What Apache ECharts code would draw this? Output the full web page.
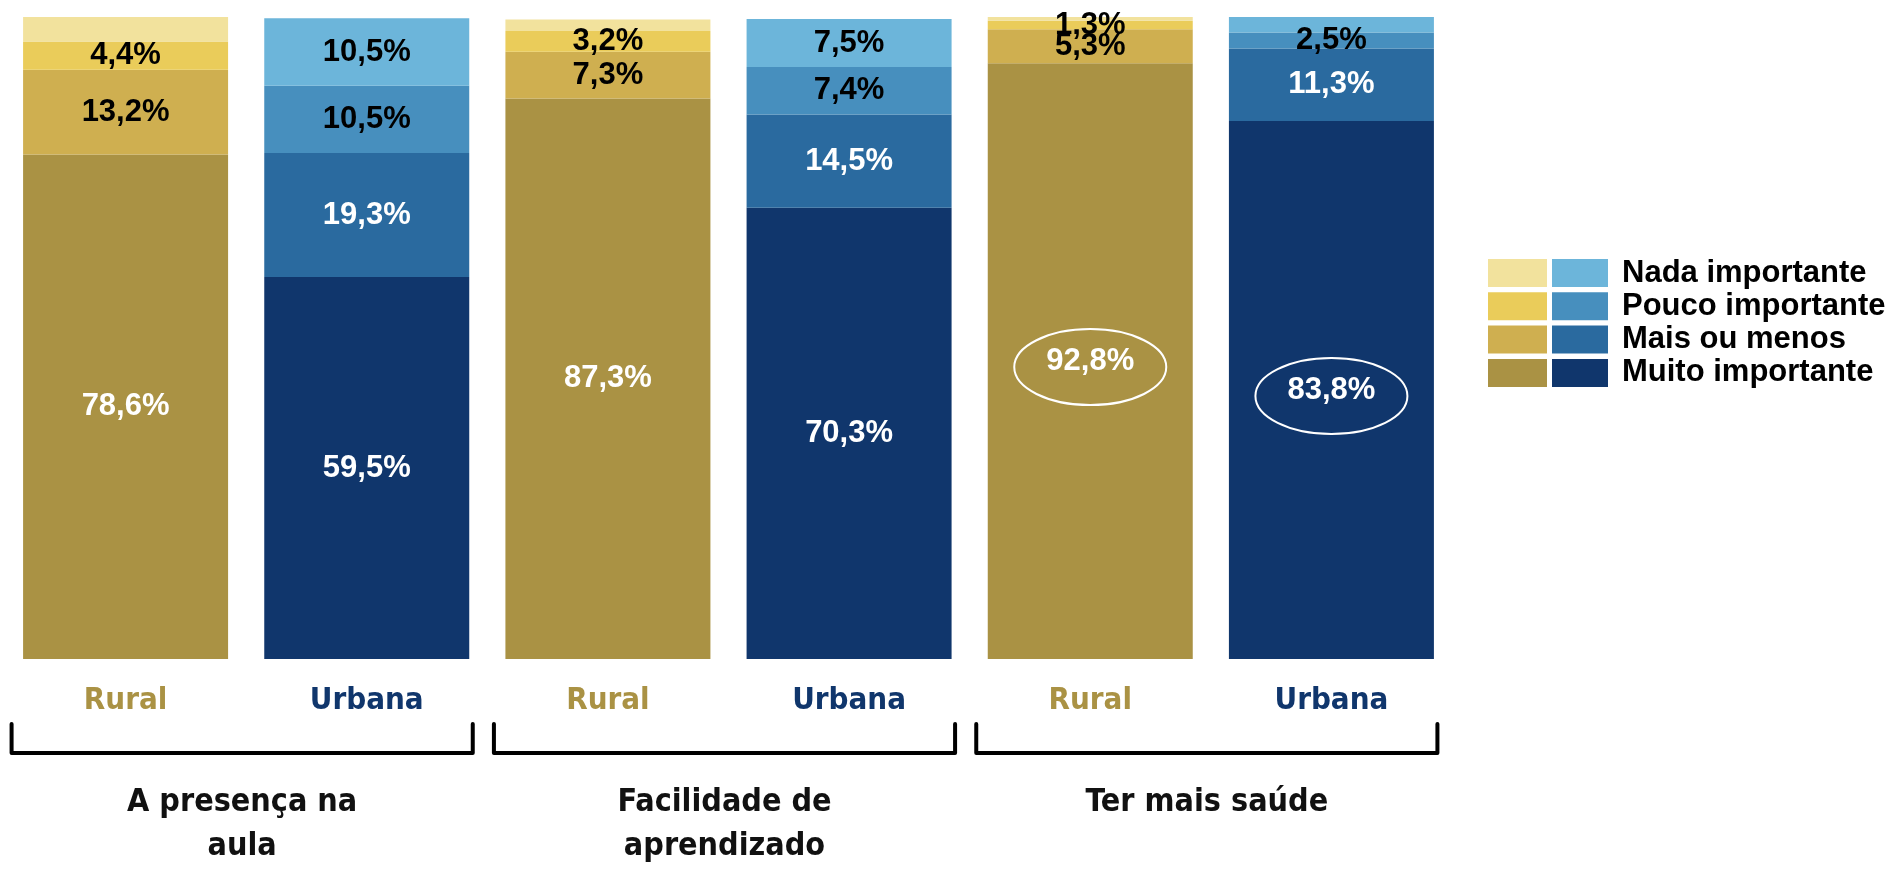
<!DOCTYPE html>
<html>
<head>
<meta charset="utf-8">
<script src="https://cdn.jsdelivr.net/npm/echarts@6/dist/echarts.min.js"></script>
<style>
  html, body { margin: 0; padding: 0; background: #fff; }
  #chart { width: 1894px; height: 871px; }
</style>
</head>
<body>
<div id="chart"></div>
<script>
// dados
var categories = ['Rural', 'Urbana', 'Rural', 'Urbana', 'Rural', 'Urbana'];
var groups = ['A presença na\naula', 'Facilidade de\naprendizado', 'Ter mais saúde'];
var levels = ['Nada importante', 'Pouco importante', 'Mais ou menos', 'Muito importante'];

var muito = [78.6, 59.5, 87.3, 70.3, 92.8, 83.8];
var mais  = [13.2, 19.3, 7.3, 14.5, 5.3, 11.3];
var pouco = [4.4, 10.5, 3.2, 7.4, 1.3, 2.5];
var nada  = [3.8, 10.5, 1.8, 7.5, 0.6, 2.4];

// cores (rural / urbana) na ordem de levels
var ruralColors = ['#F2E29D', '#EACC5A', '#CFAF50', '#AA9244'];
var urbanColors = ['#6CB5DA', '#478FBE', '#2A6A9F', '#10366C'];
var ruralLabel = ['#000', '#000', '#000', '#fff'];
var urbanLabel = ['#000', '#000', '#fff', '#fff'];

// destaques com elipse: [indice da categoria, indice na pilha (0 = muito)]
var highlights = [[4, 0], [5, 0]];

var myChart = echarts.init(document.getElementById('chart'));

function fmt(v) {
    return v.toFixed(1).replace('.', ',') + '%';
}

function makeSeries(name, values, lvl, minLabel) {
    return {
        name: name,
        type: 'bar',
        stack: 'total',
        barWidth: 205,
        data: values.map(function(v, i) {
            return {
                value: v,
                itemStyle: { color: i % 2 ? urbanColors[lvl] : ruralColors[lvl] },
                label: { color: i % 2 ? urbanLabel[lvl] : ruralLabel[lvl] }
            };
        }),
        label: {
            show: true,
            position: 'inside',
            fontFamily: 'Liberation Sans, Arial, sans-serif',
            fontWeight: 'bold',
            fontSize: 31,
            formatter: function(p) {
                return p.value >= minLabel ? fmt(p.value) : '';
            }
        },
        emphasis: { disabled: true }
    };
}

var option = {
    animation: false,
    grid: { left: 5, width: 1447, top: 17, bottom: 212, containLabel: false },
    xAxis: {
        type: 'category',
        data: categories,
        axisLine: { show: false },
        axisTick: { show: false },
        axisLabel: {
            margin: 26,
            fontFamily: 'DejaVu Sans Condensed, DejaVu Sans, sans-serif',
            fontWeight: 'bold',
            fontSize: 31,
            color: function(v, i) { return i % 2 ? '#10366C' : '#AA9244'; }
        }
    },
    yAxis: { type: 'value', min: 0, max: 100, show: false },
    series: [
        makeSeries(levels[3], muito, 3, 0),
        makeSeries(levels[2], mais, 2, 0),
        makeSeries(levels[1], pouco, 1, 0),
        makeSeries(levels[0], nada, 0, 5)
    ]
};
myChart.setOption(option);

// elementos extras: legenda, chaves, nomes dos grupos, elipses
var stacks = [muito, mais, pouco, nada];
var gfx = [];

// legenda com dois quadrados por nivel
levels.forEach(function(name, k) {
    var y = 259 + k * 33.3;
    gfx.push({ type: 'rect', shape: { x: 1488, y: y, width: 59, height: 28 }, style: { fill: ruralColors[k] } });
    gfx.push({ type: 'rect', shape: { x: 1552, y: y, width: 56, height: 28 }, style: { fill: urbanColors[k] } });
    gfx.push({
        type: 'text', x: 1622, y: y + 14,
        style: {
            text: name, fill: '#000',
            font: 'bold 31px "Liberation Sans", Arial, sans-serif',
            verticalAlign: 'middle'
        }
    });
});

var rect = myChart.getModel().getComponent('grid').coordinateSystem.getRect();
var bottom = rect.y + rect.height;

groups.forEach(function(g, gi) {
    var c0 = myChart.convertToPixel({ xAxisIndex: 0 }, gi * 2);
    var c1 = myChart.convertToPixel({ xAxisIndex: 0 }, gi * 2 + 1);
    var left = c0 - 114, right = c1 + 106;
    gfx.push({
        type: 'polyline',
        shape: { points: [[left, bottom + 65], [left, bottom + 94], [right, bottom + 94], [right, bottom + 65]] },
        style: { stroke: '#000', lineWidth: 4, fill: null, lineCap: 'round', lineJoin: 'round' }
    });
    gfx.push({
        type: 'text', x: (left + right) / 2, y: bottom + 122,
        style: {
            text: g, fill: '#111', align: 'center', verticalAlign: 'top',
            font: 'bold 32px "DejaVu Sans Condensed", "DejaVu Sans", sans-serif',
            lineHeight: 44
        }
    });
});

highlights.forEach(function(h) {
    var cat = h[0], s = h[1];
    var below = 0;
    for (var j = 0; j < s; j++) below += stacks[j][cat];
    var pt = myChart.convertToPixel({ xAxisIndex: 0, yAxisIndex: 0 }, [cat, below + stacks[s][cat] / 2]);
    gfx.push({
        type: 'ellipse',
        shape: { cx: pt[0], cy: pt[1] + 6, rx: 76, ry: 38 },
        style: { stroke: '#fff', lineWidth: 2, fill: null },
        z: 10
    });
});

myChart.setOption({ graphic: gfx });
</script>
</body>
</html>
